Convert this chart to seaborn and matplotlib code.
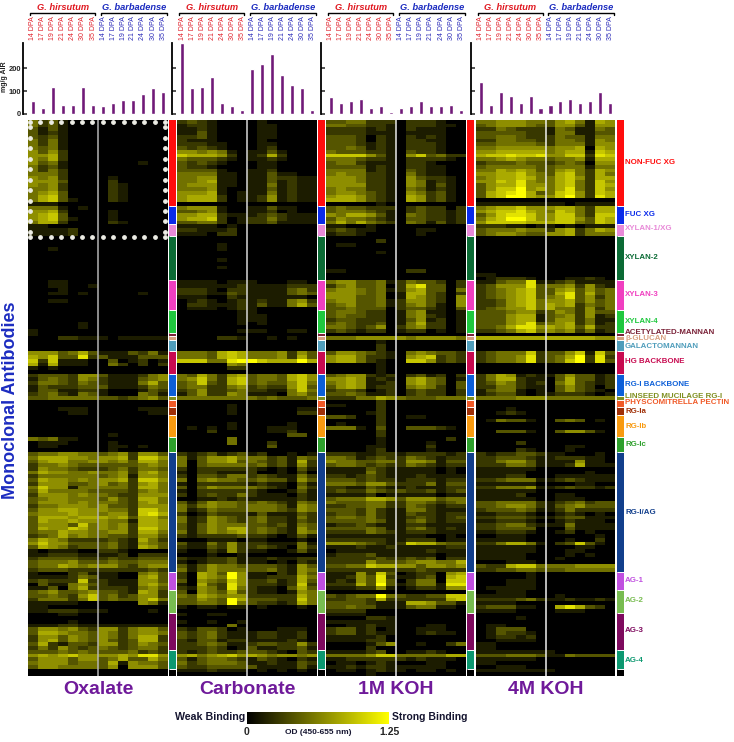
import numpy as np
import pandas as pd
import seaborn as sns
import matplotlib
matplotlib.use("Agg")
import matplotlib.pyplot as plt
from matplotlib.colors import LinearSegmentedColormap, ListedColormap
from matplotlib.lines import Line2D

# values, digit d means OD = d / 9 * 1.25
oxalate_rows = """
42310000000000 42310000000000 31310000000000 31210000000000 32310000000000 42410000000000
42410000000000 43410000000000 53520000000000 55620000000000 54620000000000 53410000000100
42310000000000 42420000000000 44420000000000 54520000100000 55530000200000 54520000210000
44520000210000 45630000210000 46730000210000 46731000210000 11100000000000
44410100000000 55620000100000 56730000100000 56731000100000 46620000210000
11000000000000 11112000000000 11112000000000
00000000000000 00000000000000 00000000000000 00100000000000 00000000000000 00000000000000
00000000000000 00000000000000 00000000000000 00000000000000 00000000000000 00000000000000
00110000000000 00110010000000 00010000000000 00110100000100 00000000000000 00110000000000
00000000000000 00000000000000
00000000000000 00000000000000 00000000000000 00000100000000 00000100000000 10000000000000
10000000000000
00022111011111
00000000000000 00000000000000 00000000000000
55534631113241 65733823111333 72711100301201 61611100420202 10100000000000 00000000000000
23332553111245 13432542111345 24432432111463 13222333111243 13311221000132 23421431000431
33444443323453
00000000000000 00000000000000
00011100000111 00001100000011
00000000000000 00000000000000 00000000000000 00000000000000 00000000000000 00000000100000
43411000000000 01110000100000 01100000110100 00000000100000
34455443452553 46665545562775 35664455453664 24454333333454 25443222342443 46554454452564
24444443451554 36554545562775 25553345342564 47551444442664 36444433332454 25554544322555
34554443532664 35554544432564 24455545332555 35566555442775 45556554552786 36665666563664
36556555441665 35553745452665 36557645452775 34465544552664 23464544332553 46542222321642
57553333421543 36542333421653 10111002210000 11222111120222 23333222322333 34445333433444
34465455532455 23332222222232
10002311100453 11112431100563 23222722111553 03114532111564 11304622221453
34533453321652 33432573423552 24442473433574 11111000000541 11000000000000 11222111000010
00011000000000 00000000000000 00001000000000 11122111111111 35545325524553 36654435424554
25535435424662 25635435323662 36213325523543 24253234323442
33343433334232 56567555565885 35553553463364 45553443615443 35544443505553
00000000000000 00000000000000
""".split()

carbonate_rows = """
23210000100000 12210000110000 11210000110000 11310000110000 22310000110000 21110000100000
22211000110000 32321000120000 55454101131000 76665201262000 43332101121000 32321000110000
32210000110000 33331001120000 44441101131100 44551101132211 44561101131211 45551101141211
44451001131211 55561011141211 56662011251211 56662011251211 00000000000000
45551001131100 33451001120100 55662111232111 56672012242111 33442012231111
11110100000000 22111200000000 11102200000000
00000000000000 00000000000000 00001000000000 00001000000000 00000000000000 00000000000000
00001000000000 00000000000000 00001000000000 00000000000000 00000000000000 00000000000000
11110111000110 11111121111222 22210221111342 22211321111343 11100211111110 01210121211452
02211121311463 01110121000000
00000011000000 00000011100000 00000011100000 00000010100000 00000000000000 00000011100110
00000000000000
00002210010100
00000000000000 00000000000000 00000000000000
44436764445253 44436764445263 77744899766696 00000540000000 00000220000000 00000000000000
43642563443675 45742673443675 34732673433574 34422452322573 23522342211474 13522541110453
44444444343334
00000000000000 00000100000000
00000100000011 00000100000022
00000000000000 00000000000000 00000100000100 01010100011100 00020000011200 00000000000330
00000400000000 00000400020000 00000000030000 00000000000000
21231231200101 41355644423143 40355634323162 40344443423152 20222222101031 10221112001020
20332442321142 40454433433153 10222221211031 30354444321042 10222222100131 20232242111021
00112121111121 31354433432143 42454434443154 41243334443254 20132221311132 41254323422142
41254323422132 31354443323143 31354663432153 41354563432154 21222232210131 00011101100010
31142522211141 21132522321042 10021521100131 00010010000000 21122311121122 10122311101021
31354433332153 41354443342154
20653951102153 20654951122264 30543752231263 10632852221272 21542842110363
30543632110154 43654552222264 33543963332274 33443943221264 10110110100010 00000000000000
10011000000000 00000000000000 10010010000000 00000400000000 21332010001110 32342111221120
32342111221120 21331221111210 22343112332252 22232013112231
21232233321032 56456756545545 31344321321021 42344431121132 32233333111131
11121110101010 00000000000000
""".split()

koh1_rows = """
33442220222100 44332210222110 22221210211100 22221110111100 33320210212100 33320210221100
33321210222100 33431210222100 43332210322100 77775310573422 44432210222210 34421110221000
33331210221100 44441210321100 45442210421100 55542210532210 55542210541210 55552210541310
45442210431210 45543210542310 56653210652310 66653210652310 00000100000000
34332220232202 34443210232212 54665310432212 35443210332212 46464320431312
11001000000000 23211000011000 12210000010000
00000000000000 00000200000000 01100000000000 00000000000000 00000100000000 00000000000000
00000000000000 00000000000000 00000000000000 11000000220000 00000000000000 00000000000000
45533412433202 24533402683302 45543412563304 55543401663202 55533401653205 45533412553205
34533412453105 33433302332103
34432201451101 34332201452101 23322201351201 34322301462201 44323502452201 23212201220101
00000000000000
44455555455554
00000100000000 00000200000000 00000200000000
35543210454332 56642210567232 56642100775232 00000100000000 00000100000000 00000100000000
34552120231202 55651210564301 45651120564303 35651220454203 23320120232202 33431120232202
22244654333444
00000200000000 11000200000000
00000200000000 00001200000000
33200200110000 00000200000000 01000200000000 44410300333210 00000200000000 00000200000000
00000100000020 00000100001000 00001100002000 00001200001000
22211221222212 44312322432122 54433442554133 34432322432122 11113211111010 11114211111010
22123211121111 33323221222122 44435532224133 22113211211122 23224323223123 11112011111011
34446653555344 43334422443234 22334422432122 33324211442111 23324211322122 34434211232123
33334311342122 12232111221111 33334311342121 22224321222111 11111111110010 22222211222011
55543212766433 11121121111122 01111111112111 12223111111011 22222322323022 22225333455446
33447665535545 22222222232222
11152730122056 11253821123067 12153830244077 22263931244188 11122510122155
00000000000000 32344943223377 22332622222267 33332111665331 33433111344110 22220000000000
11110000000000 00002210000000 11111110000000 00112110001100 23312010011100 23312110012110
11111200000000 11112200000000 00001350010024 00002000000000
11112300112100 44445774444466 11222222121110 01101210001100 11212211111100
01101211011010 00001000000000
""".split()

koh4_rows = """
44555443564165 34555433553155 22432221431143 33333221441133 33443222433144 22443322443154
33444432444155 44555554556065 55666664566176 67787785577287 44565443445166 23334332343055
34444433444144 44656533564265 55667543674264 45667644675266 55768544674275 35668554674276
35779564684275 36789634785276 36799655795286 00000000000000 11111111101111
45667555664266 56778654764266 35788755774277 46799755775376 57777666774376
22211011010111 34445442562465 34554335562444
00000000000000 00000000000000 00000000000000 00000000000000 00000000000000 00000000000000
00000000000000 00000000000000 00000000000000 00000000000000 11000000000000 01222100011210
11344811231111 23555834452521 23456733563534 23456733683634 23456734583524 22356745563534
22356746562434 23455746442524
33345523542533 33356613452512 33356613552411 33356834562412 33468856563622 22346745452412
00000000000000
66666666666655
00000000000000 00000000000000 00000000000000
23444723357173 23445823469282 23445823479283 00000000000000 00000000000000 00000000000000
24651211353312 24662110363312 23542120463212 22442110353202 13441010353210 12331011222101
44445554444444
00000000000000 00000000000000
00010000000000 00121000000000
00000000000000 01433100343010 00000000000000 00000000000000 00333100355310 00000000000000
00000000000000 00002000000000 00000000011000 00002100010000
21223321100010 22333211222110 22455311115110 22244311126111 11111100000000 11111000000100
11122000111111 22344411232111 11111100001100 22444511232212 11111100000000 11112000110000
11111100111000 33444421234233 33455421345333 23334311242222 11222100121010 22333211233111
11222100121110 22344211141111 22333300031111 11222100120100 00111000000010 11111000010020
22466410237310 11111100001100 11111100011000 11111000010100 11111000100000 00011100000000
32267744445555 22334433344444
00000100000000 00000100000000 00011100000000 00011100000000 01111100000000
00111000000000 11111000100000 22223421121121 11110000000000 23331100686320 11110000111000
00000000000000 00001000000000 00000000000000 01100000000000 01333000000000 01322100000000
01221200000000 00111100000000 11000000000000 11000000000000
11111111000000 33344431143333 11111100000000 11000000000000 00111000000000
11111111000000 00000000000000
""".split()

dpa = ["14 DPA", "17 DPA", "19 DPA", "21 DPA", "24 DPA", "30 DPA", "35 DPA"]
oxalate_air = [55, 25, 120, 40, 40, 120, 40, 33, 48, 63, 63, 88, 112, 96]
carbonate_air = [310, 112, 120, 162, 48, 33, 17, 195, 220, 260, 170, 128, 112, 17]
koh1_air = [75, 48, 55, 65, 25, 33, 8, 25, 33, 55, 33, 33, 40, 17]
koh4_air = [140, 40, 98, 80, 48, 80, 25, 40, 55, 65, 48, 55, 98, 48]

groups = ["NON-FUC XG", "FUC XG", "XYLAN-1/XG", "XYLAN-2", "XYLAN-3", "XYLAN-4",
          "ACETYLATED-MANNAN", "β-GLUCAN", "GALACTOMANNAN", "HG BACKBONE",
          "RG-I BACKBONE", "LINSEED MUCILAGE RG-I", "PHYSCOMITRELLA PECTIN",
          "RG-Ia", "RG-Ib", "RG-Ic", "RG-I/AG", "AG-1", "AG-2", "AG-3", "AG-4", ""]
group_sizes = [23, 5, 3, 12, 8, 6, 1, 1, 3, 6, 6, 1, 2, 2, 6, 4, 32, 5, 6, 10, 5, 2]
group_colors = ["#ff0d0d", "#0a2bea", "#e88ad8", "#0b6b35", "#f03fc0", "#1fc83e",
                "#7a2238", "#d8a080", "#4f9dbb", "#c80a50", "#0c5fd8", "#7f8f20",
                "#f05a28", "#a03008", "#f89a10", "#2ea02c", "#123f8c", "#c050e0",
                "#78bc50", "#7e0a5e", "#0c9870", "#000000"]
label_y = [162, 214, 229, 258, 295, 321, 332, 338, 347, 362, 384, 396, 403, 411,
           426, 445, 512, 581, 601, 631, 660]

W, H = 734, 742
sns.set_theme(style="white")
plt.rcParams['font.family'] = ['Liberation Sans', 'DejaVu Sans']
plt.rcParams['font.weight'] = 'bold'

fig = plt.figure(figsize=(W / 100, H / 100), dpi=100)


def px_axes(x0, y0, x1, y1):
    return fig.add_axes([x0 / W, 1 - y1 / H, (x1 - x0) / W, (y1 - y0) / H])


def px_text(x, y, s, **kw):
    kw.setdefault('va', 'center')
    fig.text(x / W, 1 - y / H, s, **kw)


cmap = LinearSegmentedColormap.from_list("binding", ["#000000", "#ffff00"])
group_index = np.repeat(np.arange(len(groups)), group_sizes).reshape(-1, 1)
edges = np.cumsum(group_sizes)[:-1]

panels = [
    ("Oxalate", oxalate_rows, oxalate_air, 28, 168, 169, 176, "#b4b4b4"),
    ("Carbonate", carbonate_rows, carbonate_air, 177, 317, 318, 325, "#d8d8d8"),
    ("1M KOH", koh1_rows, koh1_air, 326, 466, 467, 474, "#e8e8e8"),
    ("4M KOH", koh4_rows, koh4_air, 476, 615, 617, 624, "#f0f0f0"),
]
top, bottom = 120, 676
cax = px_axes(247, 712, 389, 724)

for i, (name, rows, air, x0, x1, bx0, bx1, sep) in enumerate(panels):
    values = np.array([[int(c) for c in r] for r in rows]) / 9 * 1.25
    last = i == len(panels) - 1

    ax = px_axes(x0, top, x1, bottom)
    sns.heatmap(values, ax=ax, cmap=cmap, vmin=0, vmax=1.25, xticklabels=False,
                yticklabels=False, cbar=last, cbar_ax=cax if last else None,
                cbar_kws={"orientation": "horizontal", "ticks": [0, 1.25]})
    ax.axvline(7, color=sep, lw=1.1)

    if i == 0:
        # white dots boxing the xyloglucan block
        dot_cols = np.arange(14) + 0.2 + np.arange(14) * 0.04
        dot_rows = np.arange(2, 31, 2.8)
        ax.scatter(dot_cols, np.full(14, 0.55), s=6, color="#ecece4", zorder=5, clip_on=False)
        ax.scatter(dot_cols, np.full(14, 31.4), s=6, color="#ecece4", zorder=5, clip_on=False)
        ax.scatter(np.full(len(dot_rows), 0.2), dot_rows, s=6, color="#ecece4", zorder=5, clip_on=False)
        ax.scatter(np.full(len(dot_rows), 13.7), dot_rows, s=6, color="#ecece4", zorder=5, clip_on=False)

    bar_ax = px_axes(bx0, top, bx1, bottom)
    sns.heatmap(group_index, ax=bar_ax, cmap=ListedColormap(group_colors), cbar=False,
                xticklabels=False, yticklabels=False, vmin=-0.5, vmax=len(groups) - 0.5)
    bar_ax.hlines(edges, 0, 1, color="white", lw=0.7)

    # bars on top of the panel
    top_ax = px_axes(x0, 43, x1, 114)
    labels = [f"{d}_{k}" for k, d in enumerate(dpa * 2)]
    df = pd.DataFrame({"stage": labels, "air": air})
    sns.barplot(data=df, x="stage", y="air", color="#701a78", saturation=1, width=0.42,
                ax=top_ax)
    top_ax.set_xlim(-0.5, 13.5)
    top_ax.set_ylim(0, 310)
    top_ax.set_xlabel("")
    top_ax.set_ylabel("")
    top_ax.patch.set_alpha(0)
    for s in ["top", "right", "bottom"]:
        top_ax.spines[s].set_visible(False)
    top_ax.spines["left"].set_position(("outward", 3.6))
    top_ax.spines["left"].set_color("black")
    top_ax.spines["left"].set_linewidth(1.3)
    top_ax.set_yticks([0, 100, 200])
    top_ax.tick_params(axis="y", direction="in", length=3, width=1.1, left=True,
                       labelleft=i == 0, labelsize=5.4, pad=1.5)
    top_ax.set_xticks(range(14))
    top_ax.set_xticklabels(dpa * 2, rotation=90, fontsize=5)
    top_ax.tick_params(axis="x", length=0, top=False, bottom=False, labeltop=True,
                       labelbottom=False, pad=2)
    for k, t in enumerate(top_ax.get_xticklabels()):
        t.set_color("#e0202a" if k < 7 else "#2a2ab8")
        t.set_fontweight("normal")

    # species headers and their brackets
    width = x1 - x0
    hirs = (x0 + 2, x0 + 0.48 * width)
    barb = (x0 + 0.52 * width, x1 - 1)
    px_text(sum(hirs) / 2, 7, "G. hirsutum", color="#e01820", ha="center", fontsize=6.7,
            style="italic")
    px_text(sum(barb) / 2, 7, "G. barbadense", color="#1c2cc0", ha="center", fontsize=6.7,
            style="italic")
    for a, b in (hirs, barb):
        xs = np.array([a, a, b, b]) / W
        ys = 1 - np.array([15, 13, 13, 15]) / H
        fig.add_artist(Line2D(xs, ys, color="black", lw=1))

    px_text((x0 + x1) / 2, 690, name, color="#6f1a9a", ha="center", fontsize=14)

for name, y, col in zip(groups, label_y, group_colors):
    px_text(625, y, name, color=col, ha="left", fontsize=5.7)

cax.set_xticklabels(["0", "1.25"])
cax.tick_params(axis="x", length=0, labelsize=7.5, pad=2)
for sp in cax.spines.values():
    sp.set_visible(False)
px_text(245, 717, "Weak Binding", ha="right", fontsize=7.7, color="#151530")
px_text(392, 717, "Strong Binding", ha="left", fontsize=7.5, color="#151530")
px_text(318, 733, "OD (450-655 nm)", ha="center", fontsize=6, color="#151530")
px_text(11, 400, "Monoclonal Antibodies", color="#1c2cc0", ha="center", rotation=90,
        fontsize=13)
px_text(4.5, 77, "mg/g AIR", ha="center", rotation=90, fontsize=5, color="#222222")

fig.savefig("out.png", dpi=100)
